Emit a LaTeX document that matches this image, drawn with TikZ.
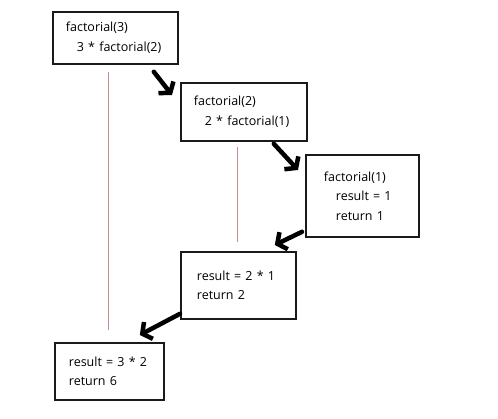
\documentclass[tikz,border=0pt]{standalone}
\usepackage{fontspec}
\setmainfont{Open Sans}
\usepackage{xcolor}
\usetikzlibrary{arrows.meta,calc}
\definecolor{framecol}{HTML}{1A1A1A}
\definecolor{tracecol}{HTML}{C98A90}

\tikzset{
  callbox/.style={draw=framecol,line width=1.8pt,anchor=north west,align=left,inner ysep=0pt,font=\fontsize{12.5}{19.5}\selectfont},
  callarrow/.style={-{Straight Barb[length=7pt,width=19pt]},line width=4.5pt,line cap=round},
  trace/.style={draw=tracecol,line width=0.9pt}
}

\begin{document}
\begin{tikzpicture}[x=1pt,y=-1pt]
  \useasboundingbox[fill=white] (0,0) rectangle (498,419);
  \node[callbox,inner xsep=13pt,text width=99pt,minimum height=52pt]  (f3) at (52,11)  {factorial(3)\\\hspace*{11pt}3 * factorial(2)};
  \node[callbox,inner xsep=13pt,text width=100pt,minimum height=58pt] (f2) at (180,82) {factorial(2)\\\hspace*{11pt}2 * factorial(1)};
  \node[callbox,inner xsep=18pt,text width=77pt,minimum height=82pt]  (f1) at (305,154) {factorial(1)\\\hspace*{12pt}result = 1\\\hspace*{12pt}return 1};
  \node[callbox,inner xsep=16pt,text width=83pt,minimum height=67pt]  (r2) at (180,251) {result = 2 * 1\\return 2};
  \node[callbox,inner xsep=14pt,text width=81pt,minimum height=57pt]  (r6) at (54,342)  {result = 3 * 2\\return 6};
  % red guide lines
  \coordinate (t3top) at ($(f3.south west)+(56,7)$);
  \coordinate (t3bot) at ($(r6.north west)+(54,-12)$);
  \coordinate (t2top) at ($(f2.south west)+(57,5)$);
  \coordinate (t2bot) at ($(r2.north west)+(57,-9)$);
  \draw[trace] (t3top) -- (t3bot);
  \draw[trace] (t2top) -- (t2bot);
  % calls and returns
  \draw[callarrow] ($(f3.south east)+(-25,7)$) -- ($(f2.north west)+(-8,13)$);
  \draw[callarrow] ($(f2.south east)+(-34,2)$) -- ($(f1.north west)+(-7,16)$);
  \draw[callarrow] ($(f1.south west)+(-3,-6)$) -- ($(r2.north east)+(-22,-6)$);
  \draw[callarrow] ($(r2.south west)+(0,-6)$) -- ($(r6.north east)+(-25,-7)$);
\end{tikzpicture}
\end{document}
